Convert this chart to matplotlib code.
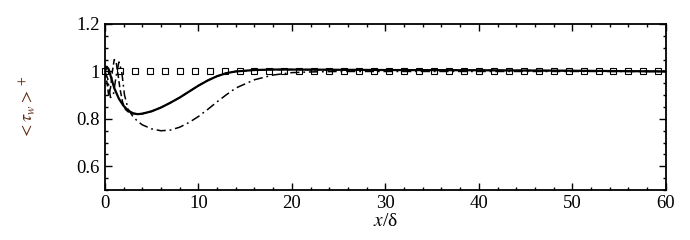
import matplotlib
matplotlib.use("Agg")
import matplotlib.pyplot as plt
import numpy as np
from matplotlib.ticker import MultipleLocator

# Data
x_solid = [0.0, 0.2, 0.4, 0.7, 1.0, 1.5, 2.0, 2.5, 3.0, 3.5, 4.0, 5.0, 6.0, 7.0, 8.0, 9.0, 10.0, 11.0, 12.0, 13.0, 14.0, 16.0, 18.0, 20.0, 25.0, 30.0, 40.0, 50.0, 60.0]
y_solid = [1.0, 1.02, 1.01, 0.97, 0.93, 0.885, 0.855, 0.835, 0.824, 0.82, 0.822, 0.832, 0.848, 0.868, 0.89, 0.915, 0.94, 0.962, 0.98, 0.993, 1.0, 1.006, 1.008, 1.008, 1.007, 1.006, 1.005, 1.003, 1.0]

x_dash = [0.0, 0.2, 0.4, 0.6, 0.8, 1.0, 1.2, 1.4, 1.6, 1.9, 2.2, 2.6, 3.0, 3.5, 4.0, 5.0, 6.0, 7.0, 8.0, 9.0, 10.0, 11.0, 12.0, 13.0, 14.0, 16.0, 18.0, 20.0, 25.0, 30.0, 40.0, 50.0, 60.0]
y_dash = [1.0, 0.96, 0.9, 0.93, 1.0, 1.05, 1.04, 0.99, 0.93, 0.87, 0.84, 0.826, 0.822, 0.82, 0.822, 0.832, 0.848, 0.868, 0.89, 0.915, 0.94, 0.962, 0.98, 0.993, 1.0, 1.006, 1.008, 1.008, 1.007, 1.006, 1.005, 1.003, 1.0]

x_dashdot = [0.0, 0.3, 0.6, 0.9, 1.2, 1.5, 1.8, 2.1, 2.5, 3.0, 3.5, 4.0, 5.0, 6.0, 7.0, 8.0, 9.0, 10.0, 11.0, 12.0, 13.0, 14.0, 16.0, 18.0, 20.0, 22.0, 25.0, 30.0, 40.0, 50.0, 60.0]
y_dashdot = [1.0, 0.97, 0.89, 0.9, 0.98, 1.04, 1.0, 0.9, 0.84, 0.81, 0.79, 0.775, 0.758, 0.75, 0.753, 0.765, 0.785, 0.81, 0.84, 0.872, 0.902, 0.93, 0.965, 0.985, 0.995, 0.998, 1.0, 1.0, 1.0, 1.0, 1.0]

x_sq = list(np.arange(0, 60.01, 1.6))
y_sq = [1.0] * len(x_sq)

plt.rcParams['font.family'] = ['Liberation Serif', 'DejaVu Serif']
plt.rcParams['mathtext.fontset'] = 'stix'

fig = plt.figure(figsize=(6.9, 2.4), dpi=100)
ax = fig.add_axes([0.152, 0.208, 0.813, 0.692])

ax.plot(x_dash, y_dash, '--', color='black', lw=1.1, dashes=(4, 2))
ax.plot(x_dashdot, y_dashdot, '-.', color='black', lw=1.1, dashes=(6, 2.5, 1.2, 2.5))
ax.plot(x_solid, y_solid, '-', color='black', lw=1.6)
ax.plot(x_sq, y_sq, 's', mfc='none', mec='black', ms=5, mew=0.8, clip_on=False)

ax.set_xlim(0, 60)
ax.set_ylim(0.5, 1.2)
ax.xaxis.set_major_locator(MultipleLocator(10))
ax.xaxis.set_minor_locator(MultipleLocator(2))
ax.yaxis.set_major_locator(MultipleLocator(0.2))
ax.yaxis.set_minor_locator(MultipleLocator(0.05))
ax.set_yticks([0.6, 0.8, 1.0, 1.2])
ax.set_yticklabels(['0.6', '0.8', '1', '1.2'])
ax.tick_params(which='both', direction='in', top=True, right=True, labelsize=13.5, width=1)
ax.tick_params(which='major', length=5)
ax.tick_params(which='minor', length=2.5)
for s in ax.spines.values():
    s.set_linewidth(1.3)

ax.set_xlabel(r'$x$/δ', fontsize=14, labelpad=1)
ax.set_ylabel(r'$<\tau_w>^+$', fontsize=13, labelpad=28, color='#5a2a10')

fig.savefig('out.png', dpi=100)
